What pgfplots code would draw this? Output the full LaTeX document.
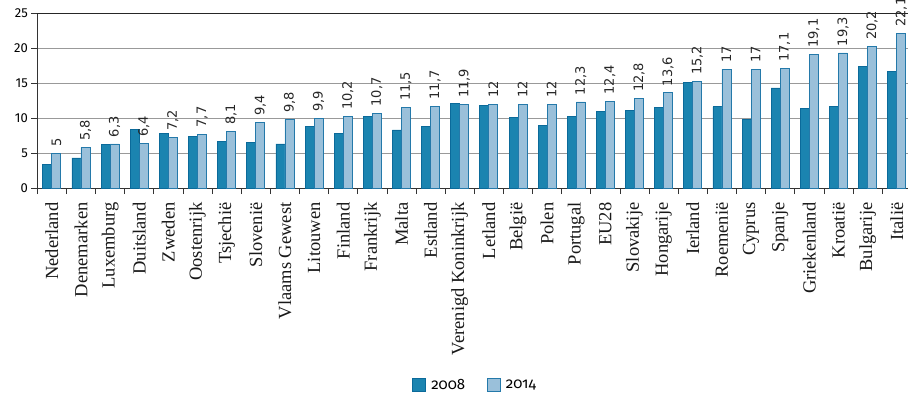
\documentclass[border=0pt]{standalone}
\usepackage{fontspec}
\usepackage{pgfplots}
\usepackage{pgfplotstable}
\pgfplotsset{compat=1.18}
\newfontfamily\fira{Fira Sans}
\newfontfamily\firaold[Numbers=OldStyle]{Fira Sans}
\newfontfamily\dejavu{DejaVu Sans}
\newfontfamily\libser{Liberation Serif}
\definecolor{cA}{HTML}{1B84B0}
\definecolor{cAe}{HTML}{0B6A9A}
\definecolor{cB}{HTML}{9AC0DA}
\definecolor{cBe}{HTML}{2479AA}
\pgfplotstableread{
x a b
0 3.4 5
1 4.3 5.8
2 6.2 6.3
3 8.4 6.4
4 7.8 7.2
5 7.4 7.7
6 6.7 8.1
7 6.5 9.4
8 6.3 9.8
9 8.8 9.9
10 7.8 10.2
11 10.2 10.7
12 8.3 11.5
13 8.8 11.7
14 12.1 11.9
15 11.8 12
16 10.1 12
17 9.0 12
18 10.2 12.3
19 11.0 12.4
20 11.1 12.8
21 11.5 13.6
22 15.1 15.2
23 11.6 17
24 9.8 17
25 14.3 17.1
26 11.4 19.1
27 11.6 19.3
28 17.4 20.2
29 16.6 22.1
}\data
\begin{document}
\begin{tikzpicture}
\useasboundingbox (-37.3pt,-209pt) rectangle (870.7pt,188pt);
\begin{axis}[
  at={(0,0)}, anchor=south west,
  scale only axis, width=874pt, height=175pt,
  xmin=-0.5, xmax=29.5, ymin=0, ymax=25,
  ybar=0pt, bar width=9pt,
  axis x line*=bottom, axis y line*=left,
  axis line style={black!80, line width=0.8pt},
  ytick={0,5,10,15,20,25},
  yticklabel style={font=\fira\fontsize{13}{13}\selectfont, /pgf/number format/assume math mode=true},
  ymajorgrids, grid style={black!40, line width=0.8pt},
  extra y ticks={25}, extra y tick labels={}, extra y tick style={grid style={black!85, line width=0.8pt}, major tick length=0pt},
  xtick={0,...,29},
  xticklabels={Nederland,Denemarken,Luxemburg,Duitsland,Zweden,Oostenrijk,Tsjechië,Slovenië,Vlaams Gewest,Litouwen,Finland,Frankrijk,Malta,Estland,Verenigd Koninkrijk,Letland,België,Polen,Portugal,EU28,Slovakije,Hongarije,Ierland,Roemenië,Cyprus,Spanje,Griekenland,Kroatië,Bulgarije,Italië},
  xticklabel style={rotate=90, anchor=east, font=\libser\fontsize{18.5}{18.5}\selectfont, text=black!90},
  xticklabel shift=5pt,
  major x tick style={draw=none},
  minor xtick={-0.5,0.5,...,29.5},
  minor x tick style={black!80, line width=0.8pt},
  minor tick length=6pt,
  major tick length=6pt,
  tick align=outside,
  y tick style={black!80, line width=0.8pt},
  xtick pos=bottom, ytick pos=left,
  clip=false,
  legend columns=2,
  legend style={at={(axis description cs:0.501,-1.126)}, anchor=center, draw=none, font=\firaold\fontsize{15}{15}\selectfont, /tikz/every even column/.append style={column sep=20pt}, /tikz/every odd column/.append style={column sep=3pt}},
  legend image code/.code={\draw[#1] (0pt,-6.5pt) rectangle (13pt,6.5pt);},
]
\addplot[fill=cA, draw=cAe, line width=0.8pt] table[x=x, y=a] {\data};
\addplot[fill=cB, draw=cBe, line width=0.8pt,
  nodes near coords,
  every node near coord/.append style={rotate=90, anchor=west, font=\dejavu\fontsize{13}{13}\selectfont, text=black!85, xshift=3pt},
  /pgf/number format/use comma, /pgf/number format/assume math mode=true
] table[x=x, y=b] {\data};
\legend{2008,2014}
\end{axis}
\end{tikzpicture}
\end{document}
